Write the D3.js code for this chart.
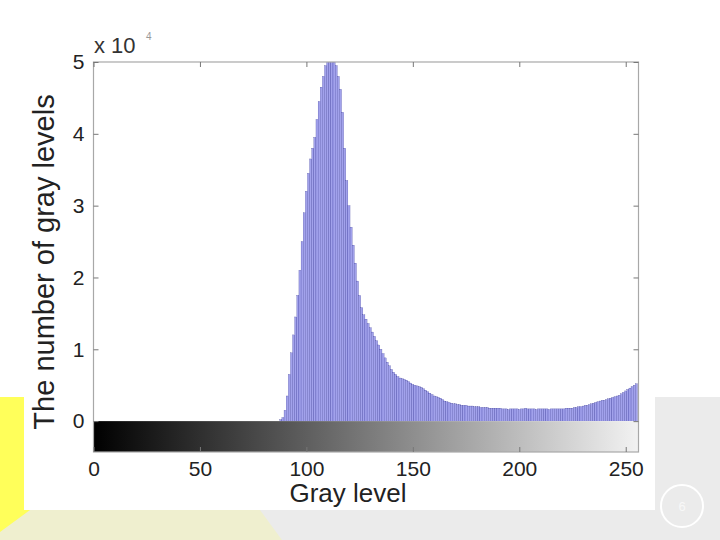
<!DOCTYPE html>
<html>
<head>
<meta charset="utf-8">
<script src="https://cdn.jsdelivr.net/npm/d3@7/dist/d3.min.js"></script>
<style>
  body { margin: 0; background: #fff; }
  svg { display: block; font-family: "Liberation Sans", Arial, sans-serif; }
</style>
</head>
<body>
<div id="chart"></div>
<script>
// histogram of gray levels, values in units of 10^4 pixels, starting at gray level 88
const firstLevel = 88;
const counts = [
  0.02, 0.05, 0.15, 0.35, 0.65, 0.95, 1.2, 1.45, 1.75, 2.1,      // 88-97
  2.5, 2.9, 3.2, 3.45, 3.65, 3.8, 3.95, 4.2, 4.45, 4.65,         // 98-107
  4.8, 4.95, 5.05, 5.1, 5.05, 5.0, 4.95, 4.8, 4.62, 4.3,         // 108-117
  3.8, 3.35, 3.0, 2.7, 2.45, 2.2, 1.95, 1.75, 1.58, 1.48,        // 118-127
  1.42, 1.36, 1.3, 1.24, 1.18, 1.12, 1.06, 1.0, 0.94, 0.88,      // 128-137
  0.82, 0.77, 0.72, 0.68, 0.65, 0.62, 0.6, 0.59, 0.58, 0.57,     // 138-147
  0.55, 0.53, 0.51, 0.5, 0.49, 0.48, 0.47, 0.45, 0.43, 0.41,     // 148-157
  0.39, 0.37, 0.35, 0.34, 0.33, 0.32, 0.3, 0.28, 0.27, 0.26,     // 158-167
  0.25, 0.24, 0.24, 0.23, 0.23, 0.22, 0.22, 0.22, 0.21, 0.21,    // 168-177
  0.21, 0.2, 0.2, 0.2, 0.19, 0.19, 0.19, 0.19, 0.18, 0.18,       // 178-187
  0.18, 0.18, 0.18, 0.18, 0.17, 0.17, 0.17, 0.16, 0.17, 0.17,    // 188-197
  0.17, 0.17, 0.16, 0.17, 0.17, 0.18, 0.17, 0.17, 0.17, 0.17,    // 198-207
  0.16, 0.17, 0.17, 0.17, 0.17, 0.17, 0.16, 0.17, 0.17, 0.17,    // 208-217
  0.17, 0.17, 0.17, 0.17, 0.18, 0.18, 0.18, 0.18, 0.19, 0.19,    // 218-227
  0.2, 0.2, 0.21, 0.22, 0.22, 0.23, 0.24, 0.25, 0.26, 0.27,      // 228-237
  0.28, 0.29, 0.29, 0.3, 0.31, 0.32, 0.33, 0.34, 0.35, 0.36,     // 238-247
  0.38, 0.4, 0.42, 0.44, 0.46, 0.48, 0.5, 0.52                   // 248-255
];
const xTicks = [0, 50, 100, 150, 200, 250];
const yTicks = [0, 1, 2, 3, 4, 5];
const xTitle = "Gray level";
const yTitle = "The number of gray levels";
const pageNumber = "6";

const W = 720, H = 540;
const svg = d3.select("#chart").append("svg").attr("width", W).attr("height", H);

// slide decoration
svg.append("rect").attr("width", W).attr("height", H).attr("fill", "#fff");
svg.append("rect").attr("x", 655).attr("y", 397).attr("width", 65).attr("height", 143).attr("fill", "#ebebeb");
svg.append("rect").attr("x", 0).attr("y", 510).attr("width", W).attr("height", 30).attr("fill", "#ebebeb");
svg.append("path").attr("d", "M0,510 L260,510 L282,540 L0,540 Z").attr("fill", "#efefcf");
svg.append("path").attr("d", "M0,397 L24,397 L24,510 L30,510 L0,532 Z").attr("fill", "#ffff5a");
svg.append("circle").attr("cx", 682).attr("cy", 506).attr("r", 21)
  .attr("fill", "none").attr("stroke", "#fff").attr("stroke-width", 2);
svg.append("text").attr("x", 682).attr("y", 511).attr("text-anchor", "middle")
  .attr("font-size", 13).attr("fill", "#f8f8f8").text(pageNumber);

// axes
const x = d3.scaleLinear().domain([0, 256]).range([93.5, 638.5]);
const y = d3.scaleLinear().domain([-0.43, 5]).range([452, 62]);

const defs = svg.append("defs");
defs.append("clipPath").attr("id", "plotClip").append("rect")
  .attr("x", x(0)).attr("y", y(5)).attr("width", x(256) - x(0)).attr("height", y(0) - y(5));

const grad = defs.append("linearGradient").attr("id", "grayBar")
  .attr("x1", "0%").attr("x2", "100%").attr("y1", "0%").attr("y2", "0%");
grad.append("stop").attr("offset", "0%").attr("stop-color", "#000");
grad.append("stop").attr("offset", "100%").attr("stop-color", "#f2f2f2");

// gray scale bar under the histogram
svg.append("rect")
  .attr("x", x(0)).attr("y", y(0))
  .attr("width", x(256) - x(0)).attr("height", y(-0.43) - y(0))
  .attr("fill", "url(#grayBar)");

// bars
svg.append("g").attr("clip-path", "url(#plotClip)")
  .selectAll("rect")
  .data(counts)
  .join("rect")
  .attr("x", (d, i) => x(firstLevel + i - 0.5))
  .attr("width", (d, i) => x(firstLevel + i + 0.5) - x(firstLevel + i - 0.5))
  .attr("y", d => y(d))
  .attr("height", d => y(0) - y(d))
  .attr("fill", "#a2a2ec")
  .attr("stroke", "#1c1c86")
  .attr("stroke-width", 0.22);

// box
svg.append("rect")
  .attr("x", x(0)).attr("y", y(5))
  .attr("width", x(256) - x(0)).attr("height", y(-0.43) - y(5))
  .attr("fill", "none").attr("stroke", "#a8a8a8").attr("stroke-width", 1.2);

const tickColor = "#777";
const fmt = d3.format("d");

const gLeft = svg.append("g").attr("transform", `translate(${x(0)},0)`)
  .call(d3.axisLeft(y).tickValues(yTicks).tickFormat(fmt).tickSize(-5).tickPadding(9));
const gRight = svg.append("g").attr("transform", `translate(${x(256)},0)`)
  .call(d3.axisRight(y).tickValues(yTicks).tickFormat("").tickSize(-5));
const gBottom = svg.append("g").attr("transform", `translate(0,${y(-0.43)})`)
  .call(d3.axisBottom(x).tickValues(xTicks).tickFormat(fmt).tickSize(-5).tickPadding(9));
const gTop = svg.append("g").attr("transform", `translate(0,${y(5)})`)
  .call(d3.axisTop(x).tickValues(xTicks).tickFormat("").tickSize(-5));

[gLeft, gRight, gBottom, gTop].forEach(g => {
  g.select(".domain").remove();
  g.selectAll(".tick line").attr("stroke", tickColor);
  g.selectAll("text").attr("font-size", 21).attr("fill", "#222")
    .attr("font-family", "'Liberation Sans', Arial, sans-serif");
});

// exponent
svg.append("text").attr("x", 94).attr("y", 53).attr("font-size", 22).attr("fill", "#333").text("x 10");
svg.append("text").attr("x", 146).attr("y", 40).attr("font-size", 10).attr("fill", "#999").text("4");

// titles
svg.append("text")
  .attr("x", x(128) - 18).attr("y", 502)
  .attr("text-anchor", "middle").attr("font-size", 26).attr("fill", "#222")
  .text(xTitle);
svg.append("text")
  .attr("transform", "translate(54,262) rotate(-90)")
  .attr("text-anchor", "middle").attr("font-size", 29).attr("fill", "#222")
  .text(yTitle);
</script>
</body>
</html>
